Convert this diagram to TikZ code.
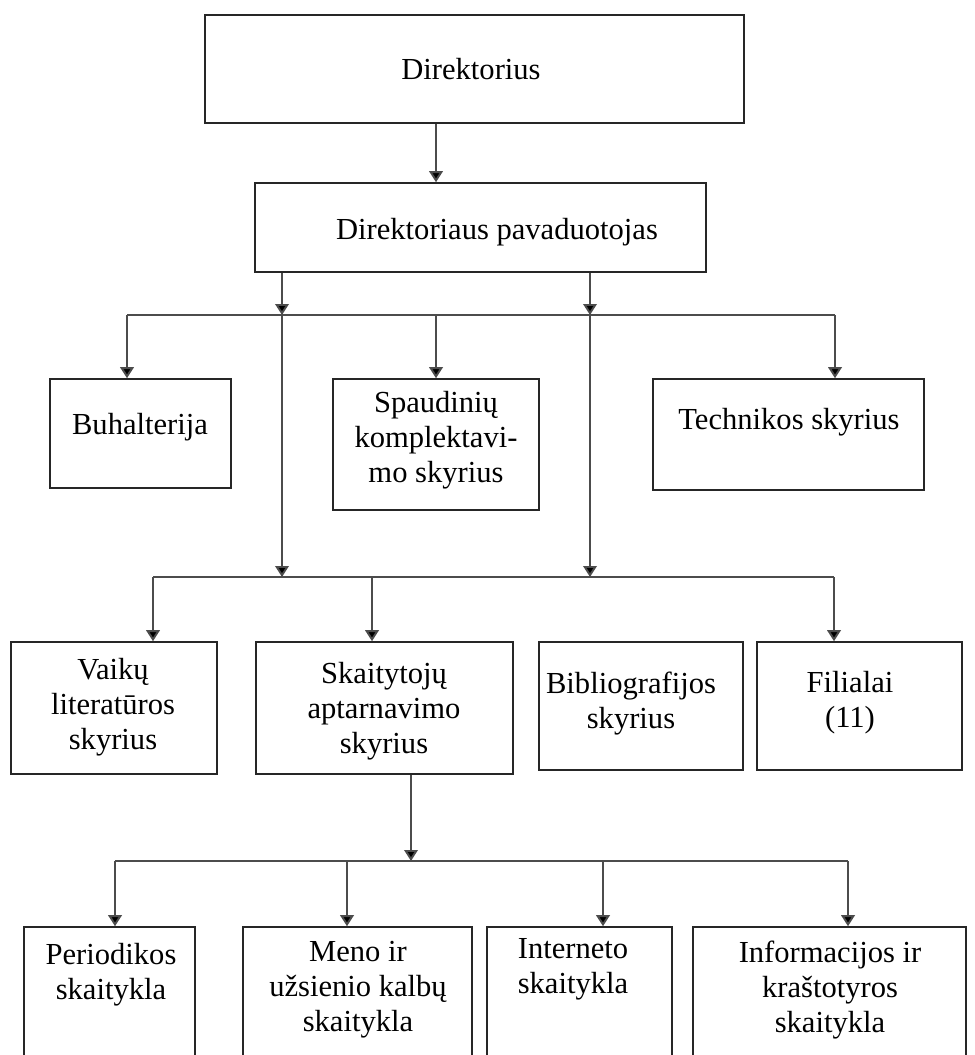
\documentclass[tikz,border=0pt]{standalone}
\usepackage{fontspec}
\setmainfont{Liberation Serif}
\usetikzlibrary{arrows.meta}
\tikzset{>={Triangle[width=0.27cm,length=0.22cm,fill=black]}}
\tikzset{box/.style={draw=black!85, line width=0.9pt, inner sep=0pt},
  txt/.style={align=center, inner sep=0pt, font=\fontsize{17.4}{19.9}\selectfont},
  line/.style={draw=black!70, line width=1.1pt}}
\begin{document}
\begin{tikzpicture}[x=0.02cm, y=-0.02cm]
\clip (0,0) rectangle (974,1055);
\fill[white] (0,0) rectangle (974,1055);
% boxes
\node[box, minimum width=10.78cm, minimum height=2.16cm] (dir) at (474.5,69) {};
\node[box, minimum width=9.02cm, minimum height=1.78cm] (pav) at (480.5,227.5) {};
\node[box, minimum width=3.62cm, minimum height=2.18cm] (buh) at (140.5,433.5) {};
\node[box, minimum width=4.12cm, minimum height=2.62cm] (spaud) at (436,444.5) {};
\node[box, minimum width=5.42cm, minimum height=2.22cm] (tech) at (788.5,434.5) {};
\node[box, minimum width=4.12cm, minimum height=2.64cm] (vaik) at (114,708) {};
\node[box, minimum width=5.14cm, minimum height=2.64cm] (skait) at (384.5,708) {};
\node[box, minimum width=4.08cm, minimum height=2.56cm] (bibl) at (641,706) {};
\node[box, minimum width=4.10cm, minimum height=2.56cm] (fil) at (859.5,706) {};
\node[box, minimum width=3.42cm, minimum height=2.96cm] (per) at (109.5,1001) {};
\node[box, minimum width=4.58cm, minimum height=2.96cm] (meno) at (357.5,1001) {};
\node[box, minimum width=3.70cm, minimum height=2.96cm] (int) at (579.5,1001) {};
\node[box, minimum width=5.46cm, minimum height=2.96cm] (info) at (829.5,1001) {};
% texts
\node[txt] (dirt) at (471,69) {Direktorius};
\node[txt] (pavt) at (497,232) {Direktoriaus pavaduotojas};
\node[txt] (buht) at (140,427) {Buhalterija};
\node[txt] (spaudt) at (436,440) {Spaudinių\\komplektavi-\\mo skyrius};
\node[txt] (techt) at (789,422) {Technikos skyrius};
\node[txt] (vaikt) at (113,707) {Vaikų\\literatūros\\skyrius};
\node[txt] (skaitt) at (384,711) {Skaitytojų\\aptarnavimo\\skyrius};
\node[txt] (biblt) at (631,704) {Bibliografijos\\skyrius};
\node[txt] (filt) at (850,703) {Filialai\\(11)};
\node[txt] (pert) at (111,975) {Periodikos\\skaitykla};
\node[txt] (menot) at (358,990) {Meno ir\\užsienio kalbų\\skaitykla};
\node[txt] (intt) at (573,969) {Interneto\\skaitykla};
\node[txt] (infot) at (830,990) {Informacijos ir\\kraštotyros\\skaitykla};
% junctions
\coordinate (j1l) at (127,315);
\coordinate (j1a) at (282,315);
\coordinate (j1b) at (590,315);
\coordinate (j1r) at (835,315);
\coordinate (j2l) at (153,577);
\coordinate (j2m) at (372,577);
\coordinate (j2a) at (282,577);
\coordinate (j2b) at (590,577);
\coordinate (j2r) at (834,577);
\coordinate (j3l) at (115,861);
\coordinate (j3a) at (347,861);
\coordinate (j3s) at (411,861);
\coordinate (j3b) at (603,861);
\coordinate (j3r) at (848,861);
% connectors
\draw[line, ->] (dir.south -| spaud.north) -- (pav.north -| spaud.north);
\draw[line, ->] (pav.south -| j1a) -- (j1a);
\draw[line, ->] (pav.south -| j1b) -- (j1b);
\draw[line] (j1l) -- (j1r);
\draw[line, ->] (j1l) -- (j1l |- buh.north);
\draw[line, ->] (j1a -| spaud.north) -- (spaud.north);
\draw[line, ->] (j1r) -- (j1r |- tech.north);
\draw[line, ->] (j1a) -- (j2a);
\draw[line, ->] (j1b) -- (j2b);
\draw[line] (j2l) -- (j2r);
\draw[line, ->] (j2l) -- (j2l |- vaik.north);
\draw[line, ->] (j2m) -- (j2m |- skait.north);
\draw[line, ->] (j2r) -- (j2r |- fil.north);
\draw[line, ->] (skait.south -| j3s) -- (j3s);
\draw[line] (j3l) -- (j3r);
\draw[line, ->] (j3l) -- (j3l |- per.north);
\draw[line, ->] (j3a) -- (j3a |- meno.north);
\draw[line, ->] (j3b) -- (j3b |- int.north);
\draw[line, ->] (j3r) -- (j3r |- info.north);
\end{tikzpicture}
\end{document}
